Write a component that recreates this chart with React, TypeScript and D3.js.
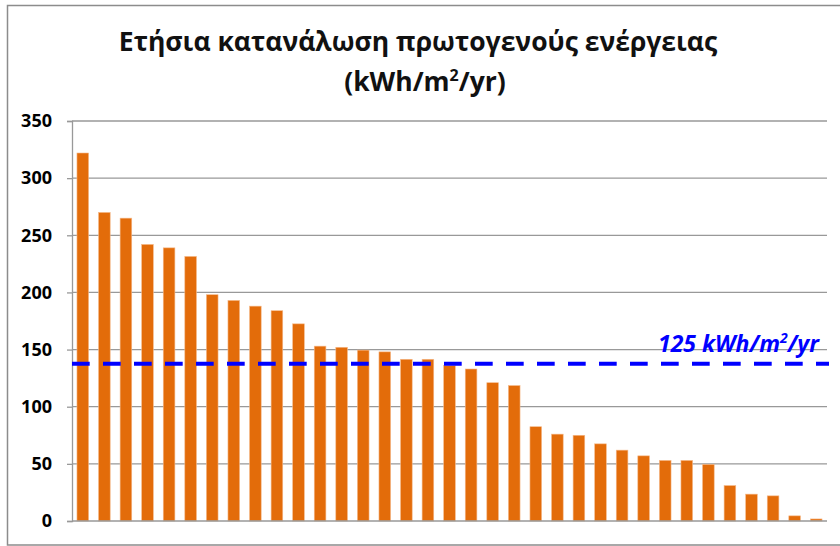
import React, { useRef, useEffect } from 'react'
import * as d3 from 'd3'

// one bar per building, sorted from worst to best
const buildings = d3.range(1, 36).map(i => 'B' + i)
const consumption = [322, 270, 265, 242, 239, 231.5, 198, 193, 188, 184, 172.5, 153, 152, 149.5, 148, 141.5, 141.5, 136, 133, 121, 118.5,
  82.5, 76, 75, 67.5, 62, 57, 53, 53, 49.5, 31, 23.5, 22, 4.5, 1.8]
const yTicks = [0, 50, 100, 150, 200, 250, 300, 350]
const limitValue = 137.5
const limitLabel = '125 kWh/m²/yr'
const titleLine1 = 'Ετήσια κατανάλωση πρωτογενούς ενέργειας'

const layout = { width: 840, height: 546, left: 72, right: 827, top: 121, bottom: 521 }
const font = '"Open Sans", "Noto Sans", sans-serif'

export default function App() {
  const ref = useRef<SVGSVGElement>(null)

  useEffect(() => {
    document.body.style.margin = '0'
    const svg = d3.select(ref.current)
    svg.selectAll('*').remove()

    const xScale = d3.scaleBand()
      .domain(buildings)
      .range([layout.left, layout.right])
      .paddingInner(0.46)
      .paddingOuter(0.23)

    const yScale = d3.scaleLinear()
      .domain([0, 350])
      .range([layout.bottom, layout.top])

    svg.append('rect')
      .attr('width', layout.width).attr('height', layout.height)
      .attr('fill', 'white')

    // frame (left, top, bottom only)
    svg.append('path')
      .attr('d', `M840,5.5 H7.5 V545 H840`)
      .attr('fill', 'none')
      .attr('stroke', '#8c8c8c')
      .attr('stroke-width', 1.5)

    // title
    const title = svg.append('text')
      .attr('text-anchor', 'middle')
      .attr('font-family', font)
      .attr('font-weight', 'bold')
      .attr('fill', '#111')
    title.append('tspan').attr('x', 418).attr('y', 51).attr('font-size', 26.5).text(titleLine1)
    const t2 = title.append('tspan').attr('x', 425).attr('y', 91).attr('font-size', 26.5)
    t2.append('tspan').text('(kWh/m')
    t2.append('tspan').attr('font-size', 16).attr('dy', -10).text('2')
    t2.append('tspan').attr('dy', 10).text('/yr)')

    // gridlines
    svg.append('g')
      .selectAll('line')
      .data(yTicks.filter(d => d > 0))
      .join('line')
      .attr('x1', layout.left).attr('x2', layout.right)
      .attr('y1', d => yScale(d)).attr('y2', d => yScale(d))
      .attr('stroke', '#999')
      .attr('stroke-width', 1.3)

    // y axis
    const yAxis = svg.append('g')
      .attr('transform', `translate(${layout.left}, 0)`)
      .call(d3.axisLeft(yScale).tickValues(yTicks).tickSize(5).tickPadding(15).tickFormat(d3.format('d')))
    yAxis.select('.domain').attr('stroke', '#999').attr('stroke-width', 1.3)
    yAxis.selectAll('.tick line').attr('stroke', '#999').attr('stroke-width', 1.3)
    yAxis.selectAll('.tick text')
      .attr('font-family', font)
      .attr('font-weight', 'bold')
      .attr('font-size', 18)
      .attr('fill', '#000')

    // bars
    svg.append('g')
      .selectAll('rect')
      .data(consumption)
      .join('rect')
      .attr('x', (d, i) => xScale(buildings[i])!)
      .attr('y', d => yScale(d))
      .attr('width', xScale.bandwidth())
      .attr('height', d => yScale(0) - yScale(d))
      .attr('fill', '#E36C0A')
      .attr('stroke', '#f5b98a')
      .attr('stroke-width', 0.6)

    // x axis baseline
    svg.append('line')
      .attr('x1', layout.left).attr('x2', layout.right)
      .attr('y1', yScale(0)).attr('y2', yScale(0))
      .attr('stroke', '#999')
      .attr('stroke-width', 1.5)

    // reference line
    svg.append('line')
      .attr('x1', layout.left).attr('x2', layout.right + 2)
      .attr('y1', yScale(limitValue)).attr('y2', yScale(limitValue))
      .attr('stroke', '#0000FF')
      .attr('stroke-width', 4)
      .attr('stroke-dasharray', '17.7 13.3')

    const lbl = svg.append('text')
      .attr('x', 819).attr('y', 352)
      .attr('text-anchor', 'end')
      .attr('font-family', font)
      .attr('font-weight', 'bold')
      .attr('font-style', 'italic')
      .attr('font-size', 23)
      .attr('fill', '#0000FF')
    lbl.append('tspan').text('125 kWh/m')
    lbl.append('tspan').attr('font-size', 14).attr('dy', -9).text('2')
    lbl.append('tspan').attr('dy', 9).text('/yr')
  }, [])

  return <svg ref={ref} width={layout.width} height={layout.height} style={{ display: 'block' }} aria-label={limitLabel} />
}
